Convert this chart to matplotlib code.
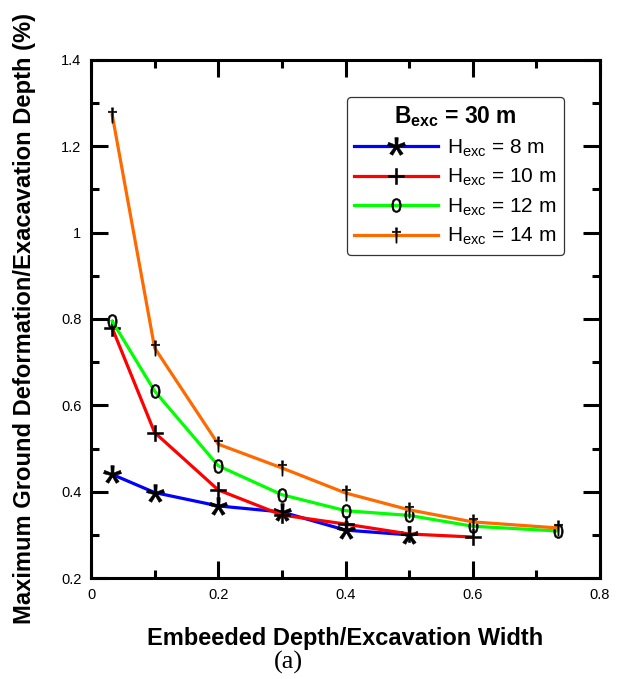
import matplotlib
matplotlib.use('Agg')
import matplotlib.pyplot as plt
from matplotlib.ticker import MultipleLocator

plt.rcParams['font.family'] = ['Liberation Sans', 'DejaVu Sans']
plt.rcParams['mathtext.fontset'] = 'custom'
plt.rcParams['mathtext.rm'] = 'Liberation Sans'
plt.rcParams['mathtext.it'] = 'Liberation Sans'
plt.rcParams['mathtext.bf'] = 'Liberation Sans:bold'

# embedded depth / excavation width (B = 30 m)
ratio = [0.0333, 0.1, 0.2, 0.3, 0.4, 0.5, 0.6, 0.7333]

# max ground deformation / excavation depth (%)
h8 = [0.44, 0.398, 0.367, 0.353, 0.311, 0.300]
h10 = [0.779, 0.537, 0.404, 0.346, 0.325, 0.302, 0.295]
h12 = [0.795, 0.633, 0.460, 0.393, 0.356, 0.345, 0.320, 0.309]
h14 = [1.273, 0.733, 0.510, 0.455, 0.397, 0.358, 0.330, 0.316]

xticks = [0, 0.2, 0.4, 0.6, 0.8]
xticklabels = ['0', '0.2', '0.4', '0.6', '0.8']
yticks = [0.2, 0.4, 0.6, 0.8, 1.0, 1.2, 1.4]
yticklabels = ['0.2', '0.4', '0.6', '0.8', '1', '1.2', '1.4']

labels = [r'H$_{\mathrm{exc}}$ = 8 m', r'H$_{\mathrm{exc}}$ = 10 m',
          r'H$_{\mathrm{exc}}$ = 12 m', r'H$_{\mathrm{exc}}$ = 14 m']
colors = ['#0000ff', '#ff0000', '#00ff00', '#ff6a00']
markers = ['$*$', '$+$', '$0$', '$\u2020$']
msizes = [13, 12, 10, 11]

fig = plt.figure(figsize=(6.17, 6.79), dpi=100)
ax = fig.add_axes([0.1475, 0.1487, 0.825, 0.763])

series = [h8, h10, h12, h14]
for ys, c, m, ms, lab in zip(series, colors, markers, msizes, labels):
    ax.plot(ratio[:len(ys)], ys, color=c, lw=2.3, marker=m, ms=ms,
            mfc='black', mec='black', mew=0.4, label=lab)

ax.set_xlim(0, 0.8)
ax.set_ylim(0.2, 1.4)
ax.set_xticks(xticks)
ax.set_xticklabels(xticklabels)
ax.set_yticks(yticks)
ax.set_yticklabels(yticklabels)
ax.xaxis.set_minor_locator(MultipleLocator(0.1))
ax.yaxis.set_minor_locator(MultipleLocator(0.1))
ax.tick_params(which='both', direction='in', top=True, right=True,
               width=2.2, labelsize=10.5, pad=7)
ax.tick_params(which='major', length=12)
ax.tick_params(which='minor', length=6)
for s in ax.spines.values():
    s.set_linewidth(2.2)

ax.set_xlabel('Embeeded Depth/Excavation Width', fontsize=17,
              fontweight='bold', labelpad=18)
ax.set_ylabel('Maximum Ground Deformation/Exacavation Depth (%)',
              fontsize=17.1, fontweight='bold', labelpad=18)

leg = ax.legend(loc='upper right', bbox_to_anchor=(0.941, 0.941),
                numpoints=1, fontsize=15, handlelength=4.0,
                handletextpad=0.45, labelspacing=0.4, borderpad=0.35,
                borderaxespad=0.3,
                title=r'B$_{\mathbf{exc}}$ = 30 m',
                title_fontproperties={'size': 16.5, 'weight': 'bold'},
                fancybox=True, framealpha=1, edgecolor='#333333')
leg.get_frame().set_linewidth(0.9)

fig.text(0.467, 0.008, '(a)', fontsize=19, family='Liberation Serif',
         ha='center', va='bottom')

fig.savefig('out.png', dpi=100)
